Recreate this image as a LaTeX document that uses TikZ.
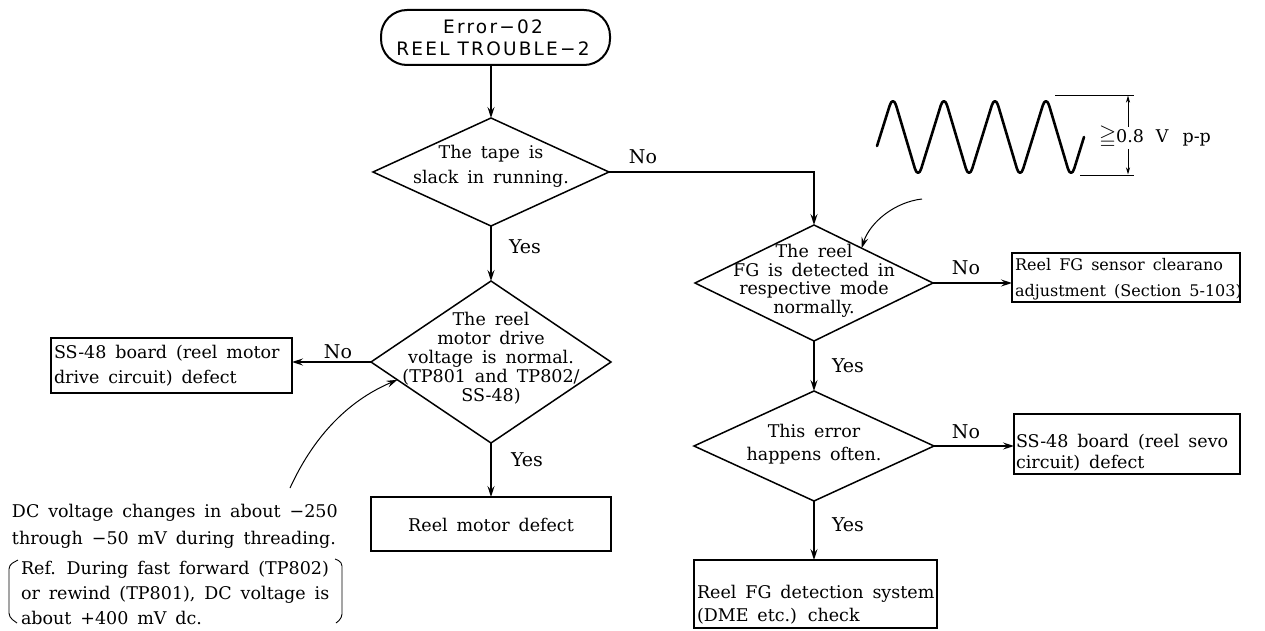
\documentclass[tikz,border=0pt]{standalone}
\usepackage{amssymb}
\usepackage{fontspec}
\setmainfont{DejaVu Serif}[WordSpace=1.6]
\newfontfamily\headfont{DejaVu Sans}[LetterSpace=12]
\usetikzlibrary{shapes.geometric,arrows.meta,calc}

\tikzset{
  every node/.style={inner sep=0pt,outer sep=0pt},
  fs/.style={font=\fontsize{17.5}{#1}\selectfont},
  dec/.style 2 args={draw,shape=diamond,line width=1.5pt,
    minimum width=#1pt,minimum height=#2pt},
  boxnode/.style 2 args={draw,rectangle,line width=2pt,
    minimum width=#1pt,minimum height=#2pt},
  txt/.style={fs=#1,align=center},
  ltxt/.style={fs=#1,align=left,anchor=west},
  arr/.style={line width=1.5pt,-{Stealth[length=11pt,width=7pt,inset=4pt]}},
  small arr/.style={line width=0.9pt,-{Stealth[length=7pt,width=4pt,inset=2pt]}},
  lbl/.style={font=\fontsize{19}{20}\selectfont},
}

\begin{document}
\begin{tikzpicture}[x=1pt,y=-1pt]
\useasboundingbox (0,0) rectangle (1265,631);

% start terminal
\node[draw,line width=2pt,rounded corners=26pt,minimum width=229pt,
      minimum height=55pt] (start) at (495.5,37.5) {};
\node[font=\headfont\fontsize{18.5}{22}\selectfont,align=center] (starttxt)
  at (493,37.5) {Error−02\\REEL TROUBLE−2};

% decisions
\node[dec={236}{108}] (d1) at (491,172) {};
\node[txt=25] (d1t) at (491,166) {The tape is\\slack in running.};

\node[dec={240}{162}] (d2) at (491,362) {};
\node[txt=19] (d2t) at (491,358) {The reel\\motor drive\\voltage is normal.\\(TP801 and TP802/\\SS-48)};

\node[dec={238}{116}] (d3) at (814,283) {};
\node[txt=18.5] (d3t) at (814,281) {The reel\\FG is detected in\\respective mode\\normally.};

\node[dec={240}{110}] (d4) at (814,446) {};
\node[txt=23] (d4t) at (814,444) {This error\\happens often.};

% result boxes
\node[boxnode={241}{55}] (lb) at (171.5,365.5) {};
\node[ltxt=25] (lbt) at (54,366) {SS-48 board (reel motor\\drive circuit) defect};

\node[boxnode={240}{54}] (mb) at (491,524) {};
\node[txt=20] (mbt) at (491,525) {Reel motor defect};

\node[boxnode={228}{49}] (rb1) at (1126,277.5) {};
\node[align=left,anchor=west,font=\fontsize{16}{26}\selectfont] (rb1t) at (1015,279)
  {Reel FG sensor clearano\\adjustment (Section 5-103)};

\node[boxnode={226}{60}] (rb2) at (1127,444) {};
\node[ltxt=21] (rb2t) at (1016,453) {SS-48 board (reel sevo\\circuit) defect};

\node[boxnode={243}{68}] (db) at (815.5,594) {};
\node[ltxt=23] (dbt) at (697,605) {Reel FG detection system\\(DME etc.) check};

% flow connectors
\draw[arr] (start.south -| d1.north) -- (d1.north);
\draw[arr] (d1.south) -- (d2.north);
\draw[arr] (d2.south) -- (mb.north);
\draw[arr] (d2.west) -- (d2.west -| lb.east);
\draw[arr] (d1.east) -| (d3.north);
\draw[arr] (d3.south) -- (d4.north);
\draw[arr] (d3.east) -- (d3.east -| rb1.west);
\draw[arr] (d4.east) -- (d4.east -| rb2.west);
\draw[arr] (d4.south) -- (d4.south |- db.north);

% yes / no labels
\node[lbl] (n1) at (643,157) {No};
\node[lbl] (y1) at (525,247) {Yes};
\node[lbl] (n2) at (338,352) {No};
\node[lbl] (y2) at (527,460) {Yes};
\node[lbl] (n3) at (966,268) {No};
\node[lbl] (y3) at (848,366) {Yes};
\node[lbl] (n4) at (966,432) {No};
\node[lbl] (y4) at (848,525) {Yes};

% note on the drive voltage
\node[ltxt=27] (note) at (12,526) {DC voltage changes in about −250\\through −50 mV during threading.};
\node[ltxt=25] (ref) at (21,593) {Ref. During fast forward (TP802)\\or rewind (TP801), DC voltage is\\about +400 mV dc.};
\draw[line width=0.9pt,rounded corners=4pt] (18,560) -- (9,565) -- (9,617) -- (17,623);
\draw[line width=0.9pt,rounded corners=4pt] (335,559) -- (342,562) -- (342,618) -- (336,623);
\coordinate (notetip) at (290,488);
\coordinate (d2edge) at ($(d2.west)!0.22!(d2.south)$);
\draw[arr,line width=1pt] (notetip) .. controls (312,440) and (345,402) .. (d2edge);

% FG waveform
\draw[line width=2.6pt,line join=round,line cap=round,rounded corners=11pt]
  (877,146) -- (893,95) -- (918,179) -- (944,95) -- (969,179) -- (995,95)
  -- (1020,179) -- (1046,95) -- (1071,179) -- (1084,137);
\draw[line width=0.9pt] (1055,95) -- (1134,95);
\draw[line width=0.9pt] (1080,175) -- (1134,175);
\draw[small arr] (1128,127) -- (1128,95.5);
\draw[small arr] (1128,149) -- (1128,174.5);
\node[font=\fontsize{17.5}{20}\selectfont,anchor=west] (amp) at (1099,137)
  {{\fontsize{22}{22}\selectfont$\geqq$}0.8\hspace{12pt}V\hspace{14pt}p-p};
\coordinate (wavetip) at (922,199);
\coordinate (d3edge) at ($(d3.north)!0.4!(d3.east)$);
\draw[arr,line width=1pt] (wavetip) .. controls (895,202) and (870,222) .. (d3edge);
\end{tikzpicture}
\end{document}
